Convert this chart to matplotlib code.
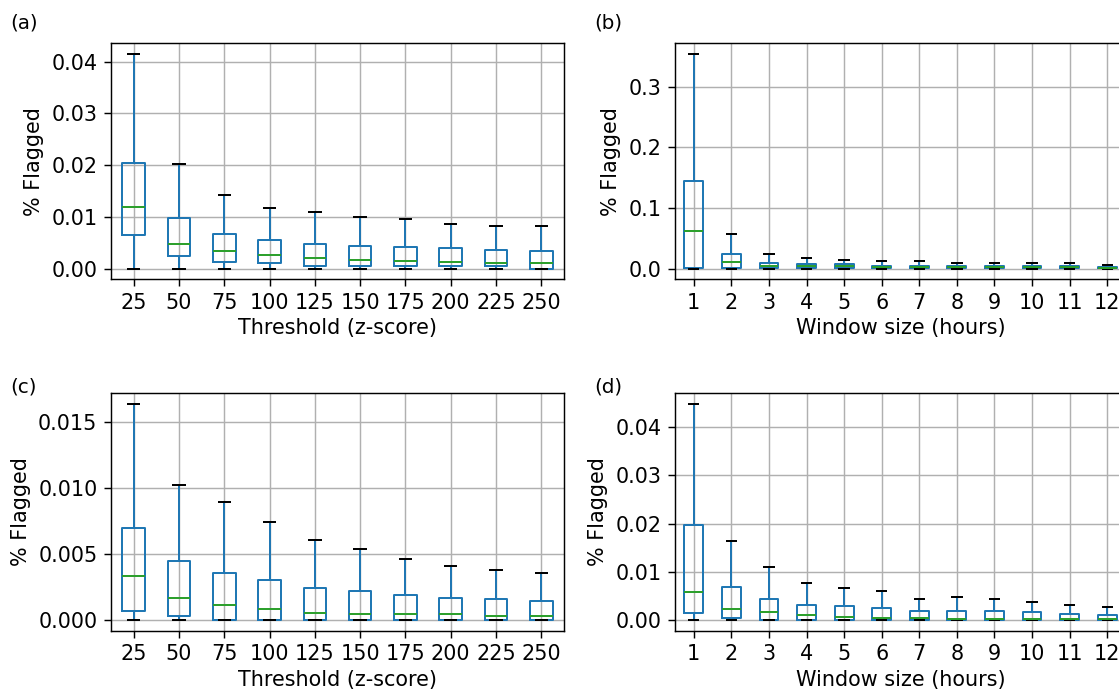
import matplotlib
matplotlib.use("Agg")
import matplotlib.pyplot as plt

# ---- data ----
thresholds = ["25", "50", "75", "100", "125", "150", "175", "200", "225", "250"]
windows = ["1", "2", "3", "4", "5", "6", "7", "8", "9", "10", "11", "12"]

# panel (a)
a_whishi = [0.0415, 0.0203, 0.0142, 0.0117, 0.0109, 0.0100, 0.0095, 0.0086, 0.0083, 0.0083]
a_q3     = [0.0205, 0.0098, 0.0067, 0.0056, 0.0047, 0.0044, 0.0042, 0.0039, 0.0036, 0.0034]
a_med    = [0.0120, 0.0047, 0.0034, 0.0026, 0.0020, 0.0017, 0.0014, 0.0012, 0.0011, 0.0011]
a_q1     = [0.0064, 0.0024, 0.0013, 0.0011, 0.0005, 0.0005, 0.0005, 0.0005, 0.0005, 0.0000]
a_whislo = [0.0, 0.0, 0.0, 0.0, 0.0, 0.0, 0.0, 0.0, 0.0, 0.0]

# panel (b)
b_whishi = [0.354, 0.0574, 0.0246, 0.0170, 0.0147, 0.0120, 0.0118, 0.0090, 0.0090, 0.0090, 0.0088, 0.0060]
b_q3     = [0.1443, 0.0235, 0.0098, 0.0071, 0.0070, 0.0050, 0.0048, 0.0044, 0.0042, 0.0042, 0.0040, 0.0032]
b_med    = [0.0617, 0.0115, 0.0044, 0.0040, 0.0035, 0.0020, 0.0020, 0.0018, 0.0018, 0.0018, 0.0018, 0.0015]
b_q1     = [0.0016, 0.0016, 0.0010, 0.0008, 0.0008, 0.0005, 0.0005, 0.0005, 0.0005, 0.0005, 0.0005, 0.0005]
b_whislo = [0.0] * 12

# panel (c)
c_whishi = [0.01632, 0.01017, 0.00892, 0.00740, 0.00608, 0.00539, 0.00463, 0.00409, 0.00379, 0.00356]
c_q3     = [0.00694, 0.00445, 0.00356, 0.00300, 0.00244, 0.00221, 0.00186, 0.00165, 0.00155, 0.00145]
c_med    = [0.00333, 0.00168, 0.00109, 0.00081, 0.00056, 0.00046, 0.00043, 0.00043, 0.00033, 0.00033]
c_q1     = [0.00066, 0.00033, 0.0, 0.0, 0.0, 0.0, 0.0, 0.0, 0.0, 0.0]
c_whislo = [0.0] * 10

# panel (d)
d_whishi = [0.0448, 0.0164, 0.0110, 0.0076, 0.0067, 0.0061, 0.0043, 0.00477, 0.0044, 0.00365, 0.0030, 0.00267]
d_q3     = [0.01976, 0.0069, 0.00426, 0.0030, 0.0028, 0.0025, 0.0019, 0.0019, 0.0019, 0.00154, 0.00126, 0.0010]
d_med    = [0.0058, 0.00223, 0.00154, 0.0010, 0.0006, 0.0003, 0.0003, 0.0002, 0.0002, 0.0002, 0.0002, 0.0002]
d_q1     = [0.00147, 0.00035, 0.0, 0.0, 0.0, 0.0, 0.0, 0.0, 0.0, 0.0, 0.0, 0.0]
d_whislo = [0.0] * 12


def make_stats(labels, lo, q1, med, q3, hi):
    return [dict(label=l, whislo=w0, q1=a, med=m, q3=b, whishi=w1, fliers=[])
            for l, w0, a, m, b, w1 in zip(labels, lo, q1, med, q3, hi)]


plt.rcParams.update({
    "font.size": 11.5,
    "xtick.labelsize": 11.5,
    "ytick.labelsize": 11.5,
    "axes.labelsize": 11.5,
    "xtick.major.size": 4,
    "ytick.major.size": 4,
})

W, H, DPI = 1119, 692, 130
fig = plt.figure(figsize=(W / DPI, H / DPI), dpi=DPI)


def px_axes(x0, y0, x1, y1):
    return fig.add_axes([x0 / W, 1 - y1 / H, (x1 - x0) / W, (y1 - y0) / H])


def draw(ax, stats, xlabel):
    ax.bxp(stats, widths=0.5, showfliers=False,
           boxprops=dict(color="#1f77b4", linewidth=1.1),
           whiskerprops=dict(color="#1f77b4", linewidth=1.1),
           medianprops=dict(color="#2ca02c", linewidth=1.1),
           capprops=dict(color="black", linewidth=1.1))
    ax.grid(True, color="#b0b0b0", linewidth=0.8)
    ax.set_axisbelow(True)
    ax.set_xlabel(xlabel, labelpad=3)
    ax.set_ylabel("% Flagged", labelpad=4)


ax_a = px_axes(111, 43.3, 564, 279.3)
draw(ax_a, make_stats(thresholds, a_whislo, a_q1, a_med, a_q3, a_whishi), "Threshold (z-score)")

ax_b = px_axes(675, 43.3, 1126, 279.3)
draw(ax_b, make_stats(windows, b_whislo, b_q1, b_med, b_q3, b_whishi), "Window size (hours)")

ax_c = px_axes(111, 393.3, 564, 630.7)
draw(ax_c, make_stats(thresholds, c_whislo, c_q1, c_med, c_q3, c_whishi), "Threshold (z-score)")

ax_d = px_axes(675, 393.3, 1126, 630.7)
draw(ax_d, make_stats(windows, d_whislo, d_q1, d_med, d_q3, d_whishi), "Window size (hours)")

for lab, x, y in [("(a)", 10, 23), ("(b)", 594, 23), ("(c)", 10, 387), ("(d)", 594, 387)]:
    fig.text(x / W, 1 - y / H, lab, ha="left", va="center", fontsize=11)

fig.savefig("out.png", dpi=DPI)
